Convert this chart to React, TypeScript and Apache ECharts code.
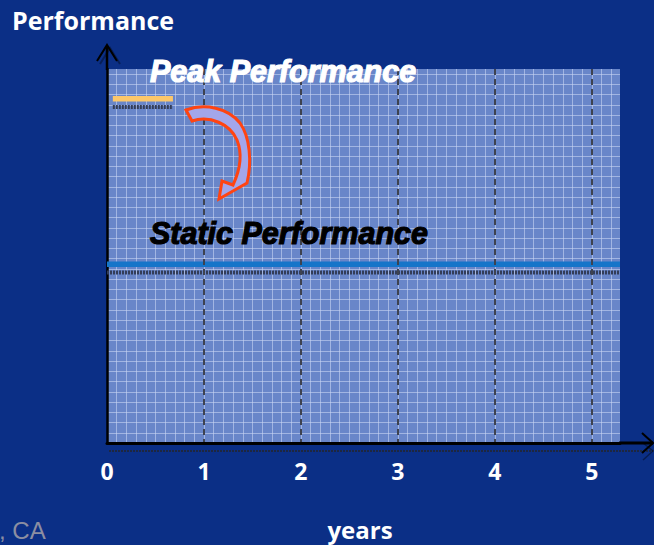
import React, { useEffect, useRef } from "react";
import * as echarts from "echarts";

// ---- data ----
const xTickLabels = ["0", "1", "2", "3", "4", "5"];
const xMax = 5.29;
const yMax = 36.5;
const peakX = [0.06, 0.68];
const peakLevel = 33.6;
const staticX = [0, 5.29];
const staticLevel = 17.45;
const titleText = "Performance";
const xName = "years";
const peakLabel = "Peak Performance";
const staticLabel = "Static Performance";
const footerText = ", CA";

const ARROW_D =
  "M186 110 C205 103 228 108 240 123 C250 137 252 162 247 183 L219 199 L222 181 L233 185 C240 170 243 155 237 140 C230 124 210 115 192 121 Z";

let registered = false;

export default function App() {
  const ref = useRef<HTMLDivElement>(null);
  useEffect(() => {
    if (!ref.current) return;
    if (!registered) {
      echarts.graphic.registerShape("curvedArrow", echarts.graphic.extendPath(ARROW_D, {}));
      registered = true;
    }
    const chart = echarts.init(ref.current, null, { renderer: "svg" });
    const shadowOffset = 0.8;
    const line = (data: number[][], color: string, width: number, type: any, z: number) => ({
      type: "line",
      data,
      showSymbol: false,
      silent: true,
      z,
      lineStyle: { color, width, type, cap: "butt" },
    });
    chart.setOption({
      animation: false,
      backgroundColor: "#0b2f86",
      grid: {
        left: 107,
        top: 69,
        width: 513,
        height: 374,
        show: true,
        backgroundColor: "#6986c9",
        borderWidth: 0,
      },
      xAxis: [
        {
          type: "value",
          min: 0,
          max: xMax,
          interval: 1,
          z: 3,
          axisLine: { show: true, onZero: false, lineStyle: { color: "#000", width: 3 } },
          axisTick: { show: false },
          axisLabel: {
            color: "#ffffff",
            fontFamily: "Open Sans",
            fontWeight: "bold",
            fontSize: 23,
            margin: 16,
            showMaxLabel: false,
            formatter: (v: number) => {
              const i = Math.round(v);
              return Math.abs(v - i) < 1e-6 && i < xTickLabels.length ? xTickLabels[i] : "";
            },
          },
          splitLine: {
            show: true,
            showMinLine: false,
            showMaxLine: false,
            lineStyle: { color: "#3d4250", width: 2, type: [6, 4] },
          },
        },
        {
          type: "value",
          min: 0,
          max: xMax,
          interval: 0.1,
          position: "top",
          axisLine: { show: false },
          axisTick: { show: false },
          axisLabel: { show: false },
          splitLine: {
            show: true,
            showMinLine: false,
            showMaxLine: false,
            lineStyle: { color: "rgba(200,214,244,0.6)", width: 1 },
          },
        },
      ],
      yAxis: {
        type: "value",
        min: 0,
        max: yMax,
        interval: 1,
        axisLine: { show: true, onZero: false, lineStyle: { color: "#000", width: 2.5 } },
        axisTick: { show: false },
        axisLabel: { show: false },
        splitLine: {
          show: true,
          showMinLine: false,
          showMaxLine: false,
          lineStyle: { color: "rgba(200,214,244,0.6)", width: 1 },
        },
      },
      series: [
        line(peakX.map((x) => [x, peakLevel - shadowOffset]), "#333d58", 4, [2, 1], 2),
        line(peakX.map((x) => [x, peakLevel]), "#fcc76a", 5.5, "solid", 2),
        line(staticX.map((x) => [x, staticLevel - shadowOffset]), "#333d58", 4, [2, 1], 2),
        line(staticX.map((x) => [x, staticLevel]), "#1675c9", 5.5, "solid", 2),
      ],
      graphic: [
        // axis extensions and arrowheads
        { type: "line", z: 10, shape: { x1: 107, y1: 70, x2: 107, y2: 46 }, style: { stroke: "#000", lineWidth: 2.5 } },
        { type: "polyline", z: 10, shape: { points: [[97, 61], [107, 45], [117, 61]] }, style: { stroke: "#000", lineWidth: 2, fill: "none" } },
        { type: "polyline", z: 9, shape: { points: [[100, 64], [110, 48], [120, 64]] }, style: { stroke: "rgba(0,0,0,0.35)", lineWidth: 2, fill: "none" } },
        { type: "line", z: 10, shape: { x1: 619, y1: 443, x2: 653, y2: 443 }, style: { stroke: "#000", lineWidth: 3 } },
        { type: "polyline", z: 10, shape: { points: [[642, 433], [653, 443], [642, 453]] }, style: { stroke: "#000", lineWidth: 2, fill: "none" } },
        { type: "line", z: 9, shape: { x1: 109, y1: 451, x2: 653, y2: 451 }, style: { stroke: "#1d2740", lineWidth: 2, lineDash: [2, 1] } },
        { type: "polyline", z: 9, shape: { points: [[643, 443], [653, 451], [643, 460]] }, style: { stroke: "rgba(0,0,0,0.4)", lineWidth: 1.5, fill: "none" } },
        // curved arrow
        {
          type: "curvedArrow",
          z: 8,
          x: 0,
          y: 0,
          style: { fill: "#a3a6ea", stroke: "#ff4412", lineWidth: 3, lineJoin: "miter" },
        },
        // texts
        {
          type: "text",
          z: 11,
          style: { x: 12, y: 20, text: titleText, fill: "#ffffff", font: "bold 25px 'Open Sans'", textVerticalAlign: "middle" },
        },
        {
          type: "text",
          z: 11,
          style: { x: 360, y: 529, text: xName, fill: "#ffffff", font: "bold 24px 'Open Sans'", textAlign: "center", textVerticalAlign: "middle" },
        },
        {
          type: "text",
          z: 11,
          style: { x: 150, y: 70.5, text: peakLabel, fill: "#ffffff", stroke: "#ffffff", lineWidth: 1.2, font: "italic bold 30.5px 'Liberation Sans'", textVerticalAlign: "middle" },
        },
        {
          type: "text",
          z: 11,
          style: { x: 150, y: 233, text: staticLabel, fill: "#000000", stroke: "#000000", lineWidth: 1.2, font: "italic bold 30.5px 'Liberation Sans'", textVerticalAlign: "middle" },
        },
        {
          type: "text",
          z: 11,
          style: { x: -1, y: 530, text: footerText, fill: "#8b8ea2", font: "24px 'Liberation Sans'", textVerticalAlign: "middle" },
        },
      ],
    });
    return () => chart.dispose();
  }, []);
  return (
    <div
      ref={ref}
      style={{ position: "fixed", left: 0, top: 0, width: 654, height: 545 }}
    />
  );
}
